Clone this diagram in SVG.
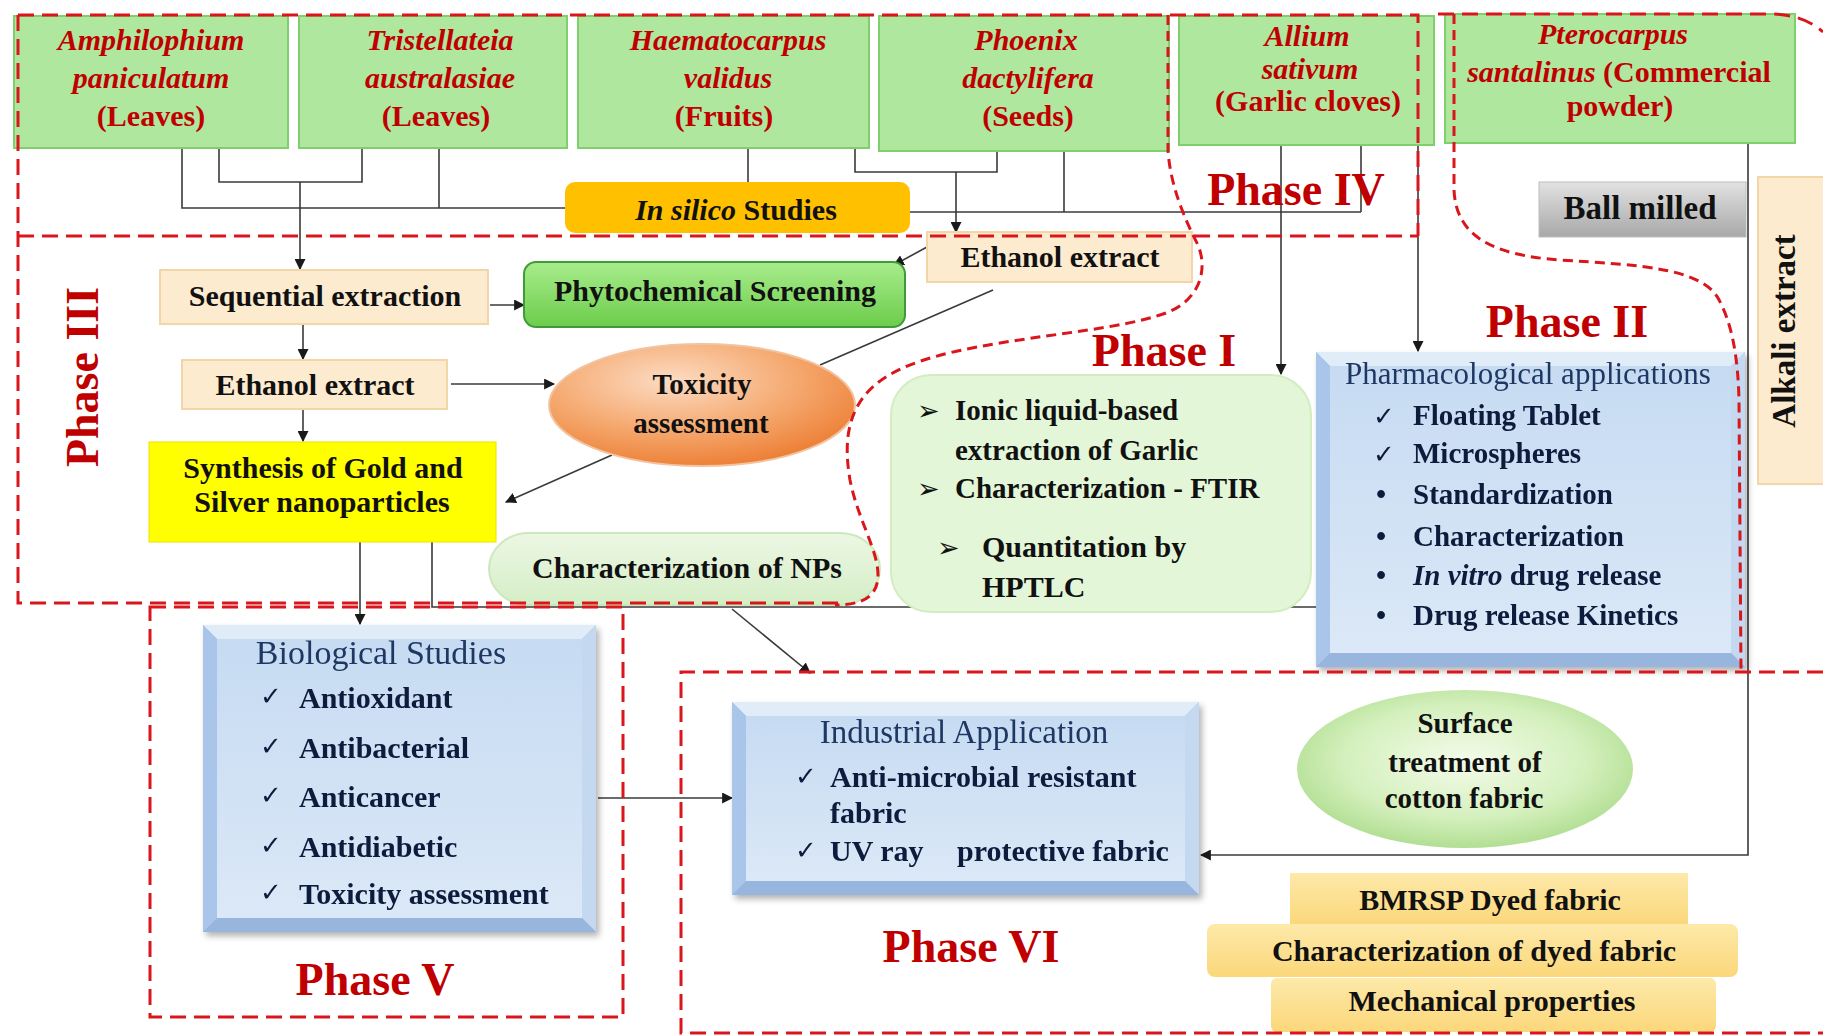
<svg xmlns="http://www.w3.org/2000/svg" width="1823" height="1036" viewBox="0 0 1823 1036">
<defs>
<style>
text{font-family:"Liberation Serif","Times New Roman",serif;font-weight:bold;}
.top{font-size:30px;fill:#c00000;text-anchor:middle}
.ph{fill:#c00000;font-size:46px;text-anchor:middle}
.k{fill:#111;font-size:30px}
.c{text-anchor:middle}
.navy{fill:#0e1a3c;font-size:29px}
.ttl{font-weight:normal;fill:#1f3864}
.sym{font-family:"DejaVu Sans",sans-serif;font-weight:normal}
.it{font-style:italic}
.dash{fill:none;stroke:#d9161c;stroke-width:3;stroke-dasharray:16 8}
.dash2{fill:none;stroke:#d9161c;stroke-width:3;stroke-dasharray:10 6}
.ln{fill:none;stroke:#3a3a3a;stroke-width:1.6}
.ar{marker-end:url(#ah)}
.gbox{fill:#afe79f;stroke:#7fcf6c;stroke-width:2}
.cream{fill:#fdebcf;stroke:#f3d6a8;stroke-width:2}
.bt{fill:#e1ecf9}.bl{fill:#a9c6ea}.br{fill:#c4d8f0}.bb{fill:#98b6dd}
</style>
<marker id="ah" viewBox="0 0 10 10" refX="9" refY="5" markerWidth="11" markerHeight="11" markerUnits="userSpaceOnUse" orient="auto"><path d="M0,0 L10,5 L0,10 z" fill="#1a1a1a"/></marker>
<radialGradient id="gOrange" cx="0.4" cy="0.3" r="0.75"><stop offset="0" stop-color="#fcdcc4"/><stop offset="0.55" stop-color="#f5a86e"/><stop offset="1" stop-color="#ec7b30"/></radialGradient>
<radialGradient id="gSurf" cx="0.5" cy="0.45" r="0.6"><stop offset="0" stop-color="#f4fbea"/><stop offset="0.6" stop-color="#d4f0bd"/><stop offset="1" stop-color="#a9da88"/></radialGradient>
<linearGradient id="gPhyto" x1="0" y1="0" x2="0" y2="1"><stop offset="0" stop-color="#a8ec8c"/><stop offset="1" stop-color="#6ccd4b"/></linearGradient>
<linearGradient id="gYel" x1="0" y1="0" x2="0" y2="1"><stop offset="0" stop-color="#fde9a9"/><stop offset="1" stop-color="#fbd77a"/></linearGradient>
<linearGradient id="gBall" x1="0" y1="0" x2="0" y2="1"><stop offset="0" stop-color="#e2e2e2"/><stop offset="1" stop-color="#a8a8a8"/></linearGradient>
<linearGradient id="gNP" x1="0" y1="0" x2="0" y2="1"><stop offset="0" stop-color="#ecf7e4"/><stop offset="1" stop-color="#d5eec6"/></linearGradient>
<linearGradient id="gBlue" x1="0" y1="0" x2="0" y2="1"><stop offset="0" stop-color="#c6dbf2"/><stop offset="1" stop-color="#dbe8f7"/></linearGradient>
<filter id="sh" x="-5%" y="-5%" width="112%" height="115%"><feDropShadow dx="3" dy="4" stdDeviation="3" flood-color="#000" flood-opacity="0.3"/></filter>
</defs>
<rect width="1823" height="1036" fill="#fff"/>

<g id="connectors">
<path class="ln" d="M182,148 V208 H565"/>
<path class="ln" d="M439,148 V208"/>
<path class="ln" d="M219,148 V182 H362 V148"/>
<path class="ln ar" d="M300,182 V269"/>
<path class="ln" d="M748,148 V182"/>
<path class="ln" d="M855,148 V172 H997 V150"/>
<path class="ln ar" d="M956,172 V232"/>
<path class="ln" d="M1064,150 V212"/>
<path class="ln" d="M910,212 H1361"/>
<path class="ln" d="M1361,145 V212"/>
<path class="ln ar" d="M1281,145 V374"/>
<path class="ln ar" d="M1418,145 V351"/>
<path class="ln ar" d="M1748,143 V855 H1201"/>
<path class="ln ar" d="M303,324 V359"/>
<path class="ln ar" d="M303,409 V441"/>
<path class="ln ar" d="M490,305 H524"/>
<path class="ln ar" d="M451,384 H554"/>
<path class="ln ar" d="M612,455 L506,502"/>
<path class="ln ar" d="M927,247 L894,265"/>
<path class="ln" d="M993,290 L820,365"/>
<path class="ln ar" d="M360,542 V624"/>
<path class="ln" d="M432,542 V607 H1317"/>
<path class="ln ar" d="M732,609 L810,673"/>
<path class="ln ar" d="M598,798 H732"/>
</g>

<g id="node-amphilophium">
<rect class="gbox" x="14" y="16" width="274" height="132"/>
<text class="top it" x="151" y="50">Amphilophium</text>
<text class="top it" x="151" y="88">paniculatum</text>
<text class="top" x="151" y="126">(Leaves)</text>
</g>
<g id="node-tristellateia">
<rect class="gbox" x="299" y="16" width="268" height="132"/>
<text class="top it" x="440" y="50">Tristellateia</text>
<text class="top it" x="440" y="88">australasiae</text>
<text class="top" x="436" y="126">(Leaves)</text>
</g>
<g id="node-haematocarpus">
<rect class="gbox" x="578" y="16" width="291" height="132"/>
<text class="top it" x="728" y="50">Haematocarpus</text>
<text class="top it" x="728" y="88">validus</text>
<text class="top" x="724" y="126">(Fruits)</text>
</g>
<g id="node-phoenix">
<rect class="gbox" x="879" y="16" width="290" height="135"/>
<text class="top it" x="1026" y="50">Phoenix</text>
<text class="top it" x="1028" y="88">dactylifera</text>
<text class="top" x="1028" y="126">(Seeds)</text>
</g>
<g id="node-allium">
<rect class="gbox" x="1179" y="16" width="255" height="129"/>
<text class="top it" x="1307" y="46">Allium</text>
<text class="top it" x="1310" y="79">sativum</text>
<text class="top" x="1308" y="111">(Garlic cloves)</text>
</g>
<g id="node-pterocarpus">
<rect class="gbox" x="1445" y="14" width="350" height="129"/>
<text class="top it" x="1613" y="44">Pterocarpus</text>
<text class="top" x="1619" y="82"><tspan class="it">santalinus</tspan> (Commercial</text>
<text class="top" x="1620" y="116">powder)</text>
</g>

<g id="node-insilico">
<rect x="565" y="182" width="345" height="51" rx="10" fill="#ffc000"/>
<text class="k c" x="736" y="220"><tspan class="it">In silico</tspan> Studies</text>
</g>
<g id="node-ballmilled">
<rect x="1539" y="182" width="207" height="55" fill="url(#gBall)" stroke="#bdbdbd"/>
<text class="k c" x="1640" y="219" style="font-size:33px">Ball milled</text>
</g>
<g id="node-alkali">
<rect x="1758" y="177" width="70" height="307" fill="#fdebcf" stroke="#f3d6a8" stroke-width="2"/>
<text class="k c" transform="translate(1795,331) rotate(-90)" style="font-size:33px">Alkali extract</text>
</g>

<g id="node-sequential">
<rect class="cream" x="160" y="270" width="328" height="54"/>
<text class="k c" x="325" y="306">Sequential extraction</text>
</g>
<g id="node-ethanol-left">
<rect class="cream" x="182" y="360" width="265" height="49"/>
<text class="k c" x="315" y="395">Ethanol extract</text>
</g>
<g id="node-synthesis">
<rect x="149" y="442" width="347" height="100" fill="#ffff00" stroke="#f0e000"/>
<text class="k c" x="323" y="478">Synthesis of Gold and</text>
<text class="k c" x="322" y="512">Silver nanoparticles</text>
</g>
<g id="node-phyto">
<rect x="524" y="262" width="381" height="65" rx="12" fill="url(#gPhyto)" stroke="#3f9b3a" stroke-width="2"/>
<text class="k c" x="715" y="301">Phytochemical Screening</text>
</g>
<g id="node-ethanol-right">
<rect class="cream" x="927" y="232" width="265" height="50"/>
<text class="k c" x="1060" y="267">Ethanol extract</text>
</g>
<g id="node-toxicity">
<ellipse cx="702" cy="405" rx="153" ry="61" fill="url(#gOrange)" stroke="#f2c3a0" stroke-width="2"/>
<text class="k c" x="702" y="394" style="font-size:29px">Toxicity</text>
<text class="k c" x="701" y="433" style="font-size:29px">assessment</text>
</g>
<g id="node-charnps">
<rect x="489" y="533" width="391" height="72" rx="40" fill="url(#gNP)" stroke="#cde8bb" stroke-width="2"/>
<text class="k c" x="687" y="578">Characterization of NPs</text>
</g>

<g id="node-phase1">
<rect x="891" y="375" width="420" height="237" rx="40" fill="#e3f6d7" stroke="#d3edc3" stroke-width="2"/>
<text class="k" x="917" y="420" style="font-size:29px"><tspan class="sym" style="font-size:27px">➢</tspan><tspan x="955">Ionic liquid-based</tspan></text>
<text class="k" x="955" y="460" style="font-size:29px">extraction of Garlic</text>
<text class="k" x="917" y="498" style="font-size:29px"><tspan class="sym" style="font-size:27px">➢</tspan><tspan x="955">Characterization - FTIR</tspan></text>
<text class="k" x="937" y="557" style="font-size:30px"><tspan class="sym" style="font-size:27px">➢</tspan><tspan x="982">Quantitation by</tspan></text>
<text class="k" x="982" y="597" style="font-size:30px">HPTLC</text>
</g>

<g id="node-pharmacological" filter="url(#sh)">
<rect x="1316" y="352" width="429" height="315" fill="#a9c6ea"/>
<polygon class="bt" points="1316,352 1745,352 1731,366 1330,366"/>
<polygon class="bl" points="1316,352 1330,366 1330,653 1316,667"/>
<polygon class="br" points="1745,352 1745,667 1731,653 1731,366"/>
<polygon class="bb" points="1316,667 1745,667 1731,653 1330,653"/>
<rect x="1330" y="366" width="401" height="287" fill="url(#gBlue)"/>
<text class="ttl c" x="1528" y="384" style="font-size:31px">Pharmacological applications</text>
<text class="navy"><tspan class="sym" x="1373" y="425" style="font-size:26px">✓</tspan><tspan x="1413" y="425">Floating Tablet</tspan></text>
<text class="navy"><tspan class="sym" x="1373" y="463" style="font-size:26px">✓</tspan><tspan x="1413" y="463">Microspheres</tspan></text>
<text class="navy"><tspan x="1376" y="504">•</tspan><tspan x="1413" y="504">Standardization</tspan></text>
<text class="navy"><tspan x="1376" y="546">•</tspan><tspan x="1413" y="546">Characterization</tspan></text>
<text class="navy"><tspan x="1376" y="585">•</tspan><tspan x="1413" y="585" class="it">In vitro</tspan><tspan> drug release</tspan></text>
<text class="navy"><tspan x="1376" y="625">•</tspan><tspan x="1413" y="625">Drug release Kinetics</tspan></text>
</g>

<g id="node-biological" filter="url(#sh)">
<rect x="203" y="625" width="393" height="307" fill="#a9c6ea"/>
<polygon class="bt" points="203,625 596,625 582,639 217,639"/>
<polygon class="bl" points="203,625 217,639 217,918 203,932"/>
<polygon class="br" points="596,625 596,932 582,918 582,639"/>
<polygon class="bb" points="203,932 596,932 582,918 217,918"/>
<rect x="217" y="639" width="365" height="279" fill="url(#gBlue)"/>
<text class="ttl c" x="381" y="664" style="font-size:34px">Biological Studies</text>
<text class="navy" style="font-size:30px"><tspan class="sym" x="260" y="705" style="font-size:26px">✓</tspan><tspan x="299" y="708">Antioxidant</tspan></text>
<text class="navy" style="font-size:30px"><tspan class="sym" x="260" y="755" style="font-size:26px">✓</tspan><tspan x="299" y="758">Antibacterial</tspan></text>
<text class="navy" style="font-size:30px"><tspan class="sym" x="260" y="804" style="font-size:26px">✓</tspan><tspan x="299" y="807">Anticancer</tspan></text>
<text class="navy" style="font-size:30px"><tspan class="sym" x="260" y="854" style="font-size:26px">✓</tspan><tspan x="299" y="857">Antidiabetic</tspan></text>
<text class="navy" style="font-size:30px"><tspan class="sym" x="260" y="901" style="font-size:26px">✓</tspan><tspan x="299" y="904">Toxicity assessment</tspan></text>
</g>

<g id="node-industrial" filter="url(#sh)">
<rect x="732" y="702" width="467" height="193" fill="#a9c6ea"/>
<polygon class="bt" points="732,702 1199,702 1185,716 746,716"/>
<polygon class="bl" points="732,702 746,716 746,881 732,895"/>
<polygon class="br" points="1199,702 1199,895 1185,881 1185,716"/>
<polygon class="bb" points="732,895 1199,895 1185,881 746,881"/>
<rect x="746" y="716" width="439" height="165" fill="url(#gBlue)"/>
<text class="ttl c" x="964" y="743" style="font-size:33px">Industrial Application</text>
<text class="navy" style="font-size:30px"><tspan class="sym" x="795" y="785" style="font-size:26px">✓</tspan><tspan x="830" y="787">Anti-microbial resistant</tspan></text>
<text class="navy" style="font-size:30px" x="830" y="823">fabric</text>
<text class="navy" style="font-size:30px"><tspan class="sym" x="795" y="859" style="font-size:26px">✓</tspan><tspan x="830" y="861">UV ray</tspan><tspan x="957" y="861">protective fabric</tspan></text>
</g>

<g id="node-surface">
<ellipse cx="1465" cy="769" rx="168" ry="79" fill="url(#gSurf)"/>
<text class="k c" x="1465" y="733" style="font-size:29px">Surface</text>
<text class="k c" x="1465" y="772" style="font-size:29px">treatment of</text>
<text class="k c" x="1464" y="808" style="font-size:29px">cotton fabric</text>
</g>
<g id="node-bmrsp">
<rect x="1290" y="873" width="398" height="52" fill="url(#gYel)"/>
<text class="k c" x="1490" y="910">BMRSP Dyed fabric</text>
</g>
<g id="node-chardyed">
<rect x="1207" y="924" width="531" height="53" rx="8" fill="url(#gYel)"/>
<text class="k c" x="1474" y="961">Characterization of dyed fabric</text>
</g>
<g id="node-mechanical">
<rect x="1271" y="978" width="445" height="54" rx="6" fill="url(#gYel)"/>
<text class="k c" x="1492" y="1011">Mechanical properties</text>
</g>

<g id="phase-boundaries">
<path class="dash" d="M18,15 H1418 V236"/>
<path class="dash" d="M18,236 H1418"/>
<path class="dash" d="M18,15 V603 H842"/>
<path class="dash2" d="M1168,15 V150 C1170,185 1185,220 1198,245 C1210,275 1195,305 1160,315 C1120,328 1060,333 1000,343 C940,353 890,365 865,395 C845,420 845,450 850,480 C858,520 878,550 878,575 C878,597 862,605 835,605"/>
<path class="dash" d="M1438,14 H1770 C1795,14 1812,22 1823,32"/>
<path class="dash2" d="M1454,14 V190 C1456,235 1490,255 1560,260 C1640,265 1700,268 1718,298 C1733,325 1738,360 1739,400 L1741,672"/>
<rect class="dash" x="150" y="607" width="473" height="410"/>
<path class="dash" d="M1823,672 H681 V1033 H1823"/>
<text class="ph" x="1296" y="205">Phase IV</text>
<text class="ph" transform="translate(98,377) rotate(-90)">Phase III</text>
<text class="ph" x="1164" y="366">Phase I</text>
<text class="ph" x="1567" y="337">Phase II</text>
<text class="ph" x="375" y="995">Phase V</text>
<text class="ph" x="971" y="962">Phase VI</text>
</g>
</svg>
